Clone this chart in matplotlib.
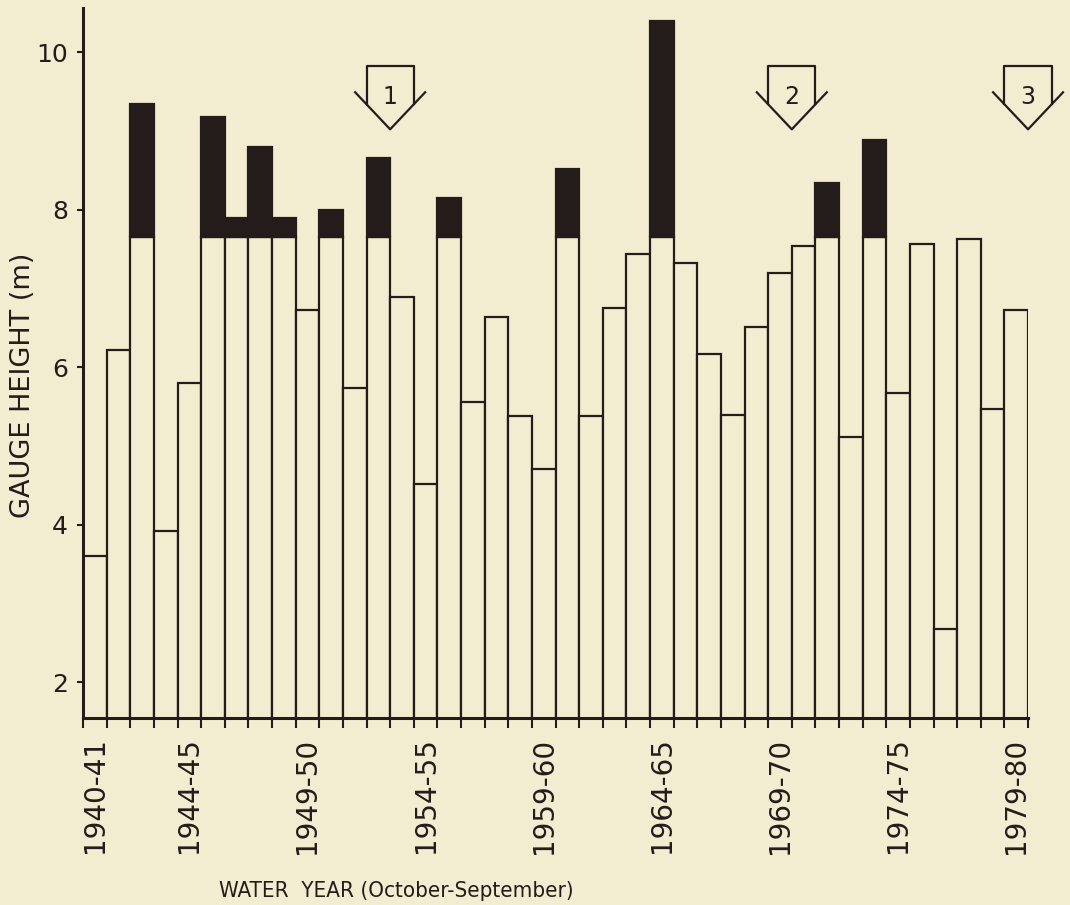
import matplotlib
matplotlib.use("Agg")
import matplotlib.pyplot as plt
import numpy as np

# annual peak gauge height (m), one bar per water year 1940-41 .. 1979-80
peak_height = [3.60, 6.22, 9.34, 3.92, 5.80, 9.17, 7.89, 8.80, 7.89, 6.72,
               8.00, 5.74, 8.66, 6.89, 4.51, 8.15, 5.56, 6.64, 5.38, 4.70,
               8.51, 5.38, 6.75, 7.44, 10.40, 7.32, 6.16, 5.39, 6.51, 7.19,
               7.54, 8.34, 5.11, 8.89, 5.67, 7.56, 2.68, 7.63, 5.47, 6.72]
flood_stage = 7.65

# labelled water years (bar index, label)
label_index = [0, 4, 9, 14, 19, 24, 29, 34, 39]
label_text = ["1940-41", "1944-45", "1949-50", "1954-55", "1959-60",
              "1964-65", "1969-70", "1974-75", "1979-80"]

# numbered event arrows (position between bars, text)
event_pos = [12.5, 29.5, 39.5]
event_text = ["1", "2", "3"]

bg = "#f2ecd1"
ink = "#231c1a"

fig = plt.figure(figsize=(10.7, 9.05), dpi=100, facecolor=bg)
ax = fig.add_axes([0.0776, 0.2066, 0.8832, 0.7845], facecolor=bg)

x = np.arange(len(peak_height))
heights = np.array(peak_height)
lower = np.minimum(heights, flood_stage)
upper = np.clip(heights - flood_stage, 0, None)

ax.bar(x, lower, width=1.0, bottom=0, color=bg, edgecolor=ink, linewidth=1.6, zorder=2)
ax.bar(x[upper > 0], upper[upper > 0], width=1.0, bottom=flood_stage,
       color=ink, edgecolor=ink, linewidth=1.6, zorder=2)

ax.set_xlim(-0.5, 39.5)
ax.set_ylim(1.543, 10.56)

for s in ["top", "right"]:
    ax.spines[s].set_visible(False)
for s in ["left", "bottom"]:
    ax.spines[s].set_linewidth(2.2)
    ax.spines[s].set_color(ink)
    ax.spines[s].set_zorder(3)

ax.set_yticks([2, 4, 6, 8, 10])
ax.set_yticklabels(["2", "4", "6", "8", "10"], fontsize=18, color=ink)
ax.tick_params(axis="y", length=4, width=1.5, color=ink, pad=7)

ax.set_xticks(np.arange(-0.5, 40, 1.0))
ax.set_xticklabels([])
ax.tick_params(axis="x", which="major", length=7, width=1.5, color=ink, direction="out")
ax.set_xticks(label_index, minor=True)
ax.set_xticklabels(label_text, minor=True, rotation=90, fontsize=20, color=ink)
ax.tick_params(axis="x", which="minor", length=0, pad=14)

ax.set_ylabel("GAUGE HEIGHT (m)", fontsize=19.5, color=ink)
ax.yaxis.set_label_coords(-0.050, 0.468)
ax.set_xlabel("WATER  YEAR (October-September)", fontsize=16, color=ink,
              family=["DejaVu Sans"], stretch="condensed", va="center")
ax.xaxis.set_label_coords(0.331, -0.243)

# down-arrow markers
box_w, wing_w = 1.0, 1.48
y_top, y_wing, y_tip = 9.82, 9.49, 9.02
y_join = y_tip + (y_wing - y_tip) * box_w / wing_w
for pos, txt in zip(event_pos, event_text):
    ax.plot([pos - wing_w, pos, pos + wing_w], [y_wing, y_tip, y_wing],
            color=ink, lw=1.6, clip_on=False, zorder=4)
    ax.plot([pos - box_w, pos - box_w, pos + box_w, pos + box_w],
            [y_join, y_top, y_top, y_join],
            color=ink, lw=1.6, clip_on=False, zorder=4)
    ax.text(pos, 9.43, txt, ha="center", va="center", fontsize=17, color=ink)

fig.savefig("out.png", dpi=100, facecolor=bg)
